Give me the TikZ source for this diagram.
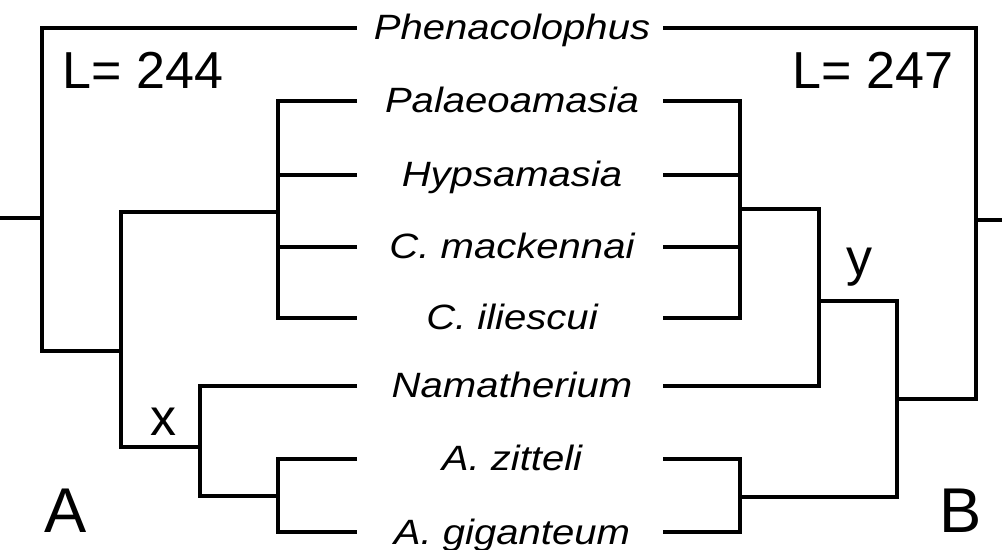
\documentclass[tikz,border=0pt]{standalone}
\usepackage{fontspec}
\setmainfont{Liberation Sans}
\newfontfamily\taxfont[FakeStretch=1.14]{Liberation Sans}
\usetikzlibrary{positioning,calc}
\tikzset{
  br/.style={draw=black,line width=2.3pt},
  taxon/.style={font=\taxfont\fontsize{25}{27}\selectfont\itshape,anchor=base,inner sep=0pt},
  tag/.style={font=\fontsize{37}{42}\selectfont,anchor=base,inner sep=0pt},
  panel/.style={font=\fontsize{45}{50}\selectfont,anchor=base,inner sep=0pt},
}
\begin{document}
\begin{tikzpicture}[x=0.025cm,y=-0.025cm]
\useasboundingbox (0,0) rectangle (1002,550);
% taxa, with the leaf ends of both trees
\foreach \n/\t/\y in {ph/Phenacolophus/28,pa/Palaeoamasia/101,hy/Hypsamasia/175,cm/C. mackennai/247,ci/C. iliescui/318,na/Namatherium/386,az/A. zitteli/459,ag/A. giganteum/532}{
  \node[taxon](t\n)at(512,\y+12){\t};
  \coordinate(l\n)at(357,\y);
  \coordinate(r\n)at(663,\y);}
% tree A
\coordinate(la)at(42,218);\coordinate(lb)at(121,351);\coordinate(lc)at(278,212);
\coordinate(ld)at(200,447);\coordinate(le)at(278,496);\coordinate(lstem)at(0,218);
\draw[br](lph)-|(la)|-(lb);\draw[br](la)--(lstem);
\draw[br](lc)-|(lb)|-(ld);
\draw[br](lpa)-|(lc)|-(lci);
\foreach \n in {hy,cm}{\draw[br](l\n)--(l\n-|lc);}
\draw[br](lna)-|(ld)|-(le);
\draw[br](laz)-|(le)|-(lag);
% tree B
\coordinate(rc)at(740,209);\coordinate(rd)at(819,301);\coordinate(re)at(740,497);
\coordinate(rf)at(897,399);\coordinate(rg)at(976,220);\coordinate(rstem)at(1002,220);
\draw[br](rpa)-|(rc)|-(rci);
\foreach \n in {hy,cm}{\draw[br](r\n)--(r\n-|rc);}
\draw[br](rc)-|(rd)|-(rna);
\draw[br](raz)-|(re)|-(rag);
\draw[br](rd)-|(rf)|-(re);
\draw[br](rph)-|(rg)|-(rf);\draw[br](rg)--(rstem);
% labels
\node[tag](lenA)at(143,89){L= 244};
\node[tag](lenB)at(873,89){L= 247};
\node[tag](nx)at(164,436){x};
\node[tag](ny)at(860,276){y};
\node[panel](pA)at(66,532){A};
\node[panel](pB)at(961,532){B};
\end{tikzpicture}
\end{document}
